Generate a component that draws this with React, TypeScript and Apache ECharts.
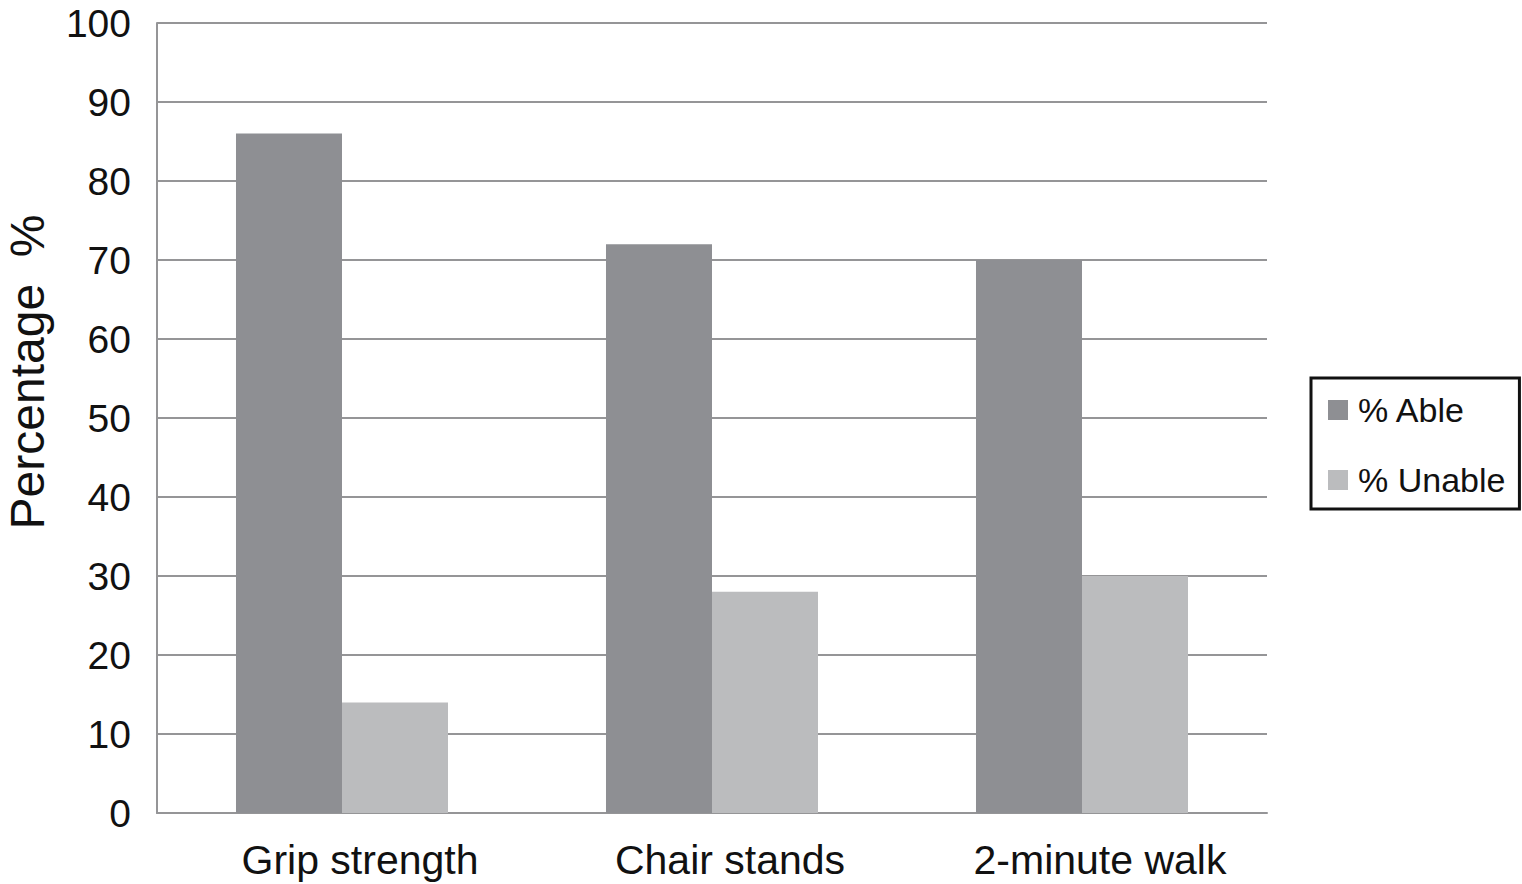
import React, { useEffect, useRef } from "react";
import * as echarts from "echarts";

const categories = ["Grip strength", "Chair stands", "2-minute walk"];
const ableValues = [86, 72, 70];
const unableValues = [14, 28, 30];
const seriesNames = ["% Able", "% Unable"];
const yTicks = { min: 0, max: 100, interval: 10 };

const FONT = "'Liberation Sans', Arial, Helvetica, sans-serif";
const GRID_COLOR = "#959597";

export default function App() {
  const ref = useRef<HTMLDivElement>(null);
  useEffect(() => {
    document.body.style.margin = "0";
    const chart = echarts.init(ref.current!, null, { renderer: "svg" });
    chart.setOption({
      animation: false,
      backgroundColor: "#ffffff",
      textStyle: { fontFamily: FONT, color: "#111111" },
      grid: { left: 157, right: 255, top: 23, bottom: 71, containLabel: false },
      legend: {
        orient: "vertical",
        left: 1311,
        top: 378,
        data: seriesNames,
        icon: "rect",
        itemWidth: 20,
        itemHeight: 20,
        itemGap: 36,
        borderColor: "#111111",
        borderWidth: 3,
        padding: [15, 14, 12, 17],
        textStyle: { fontSize: 34, color: "#111111", fontFamily: FONT, padding: [0, 0, 0, 5] },
      },
      xAxis: {
        type: "category",
        data: categories,
        axisLine: { show: true, lineStyle: { color: GRID_COLOR, width: 2 } },
        axisTick: { show: false },
        axisLabel: {
          fontSize: 41,
          color: "#111111",
          margin: 26,
          fontFamily: FONT,
          padding: [0, 0, 0, 36],
        },
      },
      yAxis: {
        type: "value",
        min: yTicks.min,
        max: yTicks.max,
        interval: yTicks.interval,
        axisLine: { show: true, lineStyle: { color: GRID_COLOR, width: 2 } },
        axisTick: { show: false },
        splitLine: { show: true, lineStyle: { color: GRID_COLOR, width: 2 } },
        axisLabel: { fontSize: 39, color: "#111111", margin: 26, fontFamily: FONT },
      },
      graphic: [
        {
          type: "text",
          x: 27,
          y: 372,
          rotation: Math.PI / 2,
          style: {
            text: "Percentage  %",
            fontSize: 48,
            fontFamily: FONT,
            fill: "#111111",
            align: "center",
            verticalAlign: "middle",
          },
        },
      ],
      series: [
        {
          name: seriesNames[0],
          type: "bar",
          data: ableValues,
          itemStyle: { color: "#8e8f93" },
          barGap: "0%",
          barCategoryGap: "42.7%",
        },
        {
          name: seriesNames[1],
          type: "bar",
          data: unableValues,
          itemStyle: { color: "#bbbcbe" },
          barGap: "0%",
          barCategoryGap: "42.7%",
        },
      ],
    });
    return () => chart.dispose();
  }, []);
  return <div ref={ref} style={{ width: 1522, height: 884 }} />;
}
